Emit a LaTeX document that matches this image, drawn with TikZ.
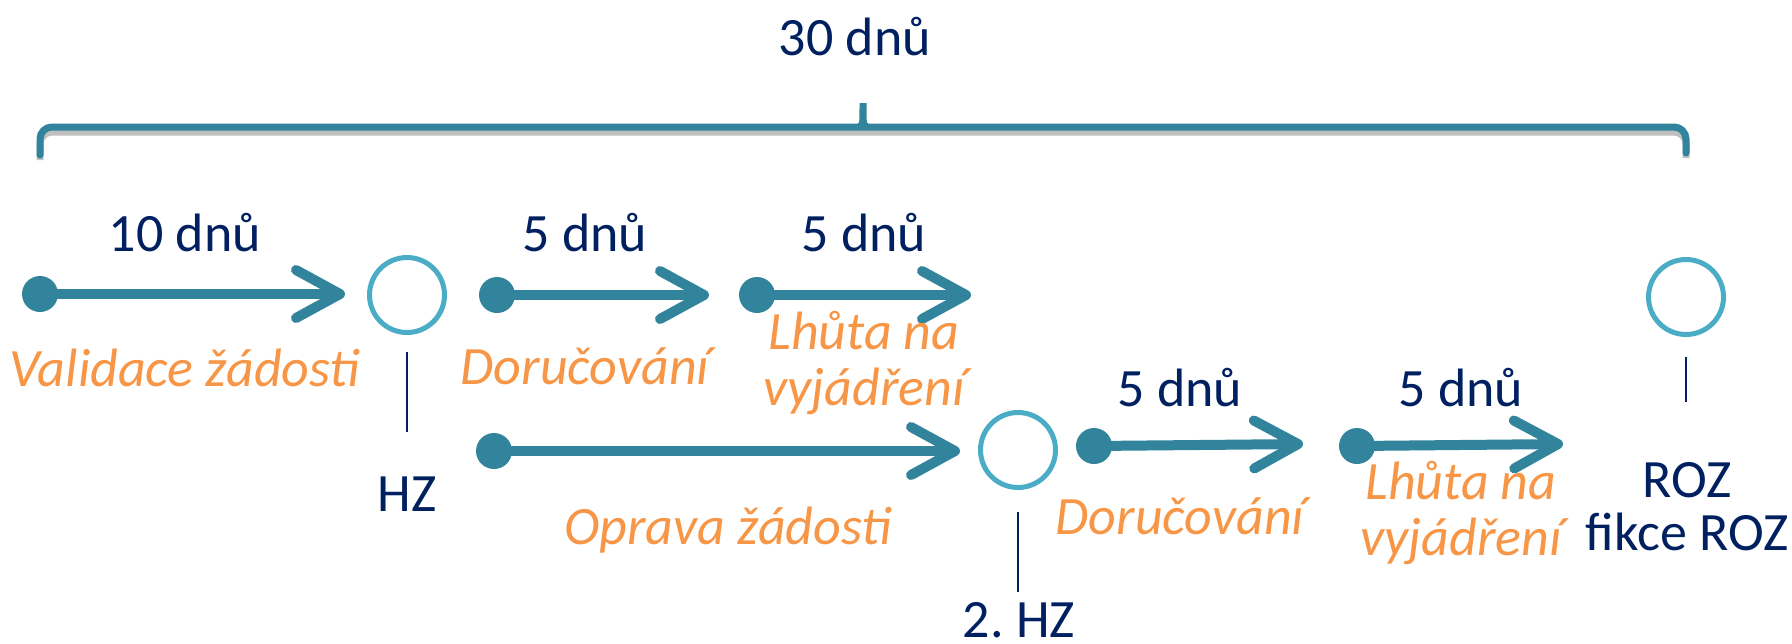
\documentclass[tikz,border=0pt]{standalone}
\usepackage{fontspec}
\setmainfont{Carlito}
\usetikzlibrary{arrows.meta}
\definecolor{teal}{HTML}{31849B}
\definecolor{lblue}{HTML}{4BACC6}
\definecolor{navy}{HTML}{002060}
\definecolor{orng}{HTML}{F79646}
\tikzset{
  lbl/.style={text=navy,font=\fontsize{27pt}{32pt}\selectfont,anchor=base,inner sep=0pt},
  olbl/.style={text=orng,font=\fontsize{27pt}{27pt}\selectfont\itshape,anchor=base,inner sep=0pt,align=center},
  dotn/.style={circle,fill=teal,minimum size=18pt,inner sep=0pt},
  ring/.style={circle,draw=lblue,line width=2.5pt,minimum size=37.5pt,inner sep=0pt},
  arr/.style={draw=teal,line width=5pt,line cap=round,-{Straight Barb[length=22pt,width=24pt,round]}},
  tick/.style={draw=navy,line width=1.3pt},
  brace/.style={draw=teal,line width=3.5pt,line cap=round,rounded corners=6pt}
}
\begin{document}
\begin{tikzpicture}[x=0.5pt,y=-0.5pt]
\useasboundingbox (0,0) rectangle (1792,643);
% brace
\coordinate (bl) at (40,155);
\coordinate (br) at (1686,153);
\coordinate (bm) at (863,96);
\draw[black!25,line width=3.5pt,rounded corners=6pt] (40,160) -- (40,132) -- (1686,132) -- (1686,158);
\draw[brace] (bl) -- (40,127) -- (855,127) .. controls (862,127) and (863,115) .. (bm) .. controls (863,115) and (864,127) .. (871,127) -- (1686,127) -- (br);
\node[lbl] (t30) at (855,55) {30 dnů};
% row 1
\node[dotn] (d1) at (40,294) {};
\coordinate (e1) at (345,294);
\draw[arr] (d1.center) -- (e1);
\node[lbl] (l1) at (185,251) {10 dnů};
\node[olbl] (o1) at (185,386) {Validace žádosti};
\node[ring] (c1) at (407,295) {};
\coordinate (h1a) at (407,352);
\coordinate (h1b) at (407,432);
\draw[tick] (h1a) -- (h1b);
\node[lbl] (hz) at (407,511) {HZ};
\node[dotn] (d2) at (497,295) {};
\coordinate (e2) at (709,295);
\draw[arr] (d2.center) -- (e2);
\node[lbl] (l2) at (585,251) {5 dnů};
\node[olbl] (o2) at (585,384) {Doručování};
\node[dotn] (d3) at (757,295) {};
\coordinate (e3) at (971,295);
\draw[arr] (d3.center) -- (e3);
\node[lbl] (l3) at (864,251) {5 dnů};
\node[olbl] (o3a) at (864,349) {Lhůta na};
\node[olbl] (o3b) at (864,405) {vyjádření};
% right end
\node[ring] (c4) at (1686,297) {};
\coordinate (h4a) at (1686,357);
\coordinate (h4b) at (1686,402);
\draw[tick] (h4a) -- (h4b);
\node[lbl] (roz) at (1687,497) {ROZ};
\node[lbl] (froz) at (1687,550) {fikce ROZ};
% row 2
\node[dotn] (d5) at (494,451) {};
\coordinate (e5) at (960,451);
\draw[arr] (d5.center) -- (e5);
\node[olbl] (o5) at (728,544) {Oprava žádosti};
\node[ring] (c2) at (1018,450) {};
\coordinate (h2a) at (1018,512);
\coordinate (h2b) at (1018,592);
\draw[tick] (h2a) -- (h2b);
\node[lbl] (hz2) at (1019,637) {2.~HZ};
\node[dotn] (d6) at (1094,446) {};
\coordinate (e6) at (1303,444);
\draw[arr] (d6.center) -- (e6);
\node[lbl] (l6) at (1180,406) {5 dnů};
\node[olbl] (o6) at (1180,534) {Doručování};
\node[dotn] (d7) at (1357,446) {};
\coordinate (e7) at (1563,444);
\draw[arr] (d7.center) -- (e7);
\node[lbl] (l7) at (1461,406) {5 dnů};
\node[olbl] (o7a) at (1461,499) {Lhůta na};
\node[olbl] (o7b) at (1461,555) {vyjádření};
\end{tikzpicture}
\end{document}
